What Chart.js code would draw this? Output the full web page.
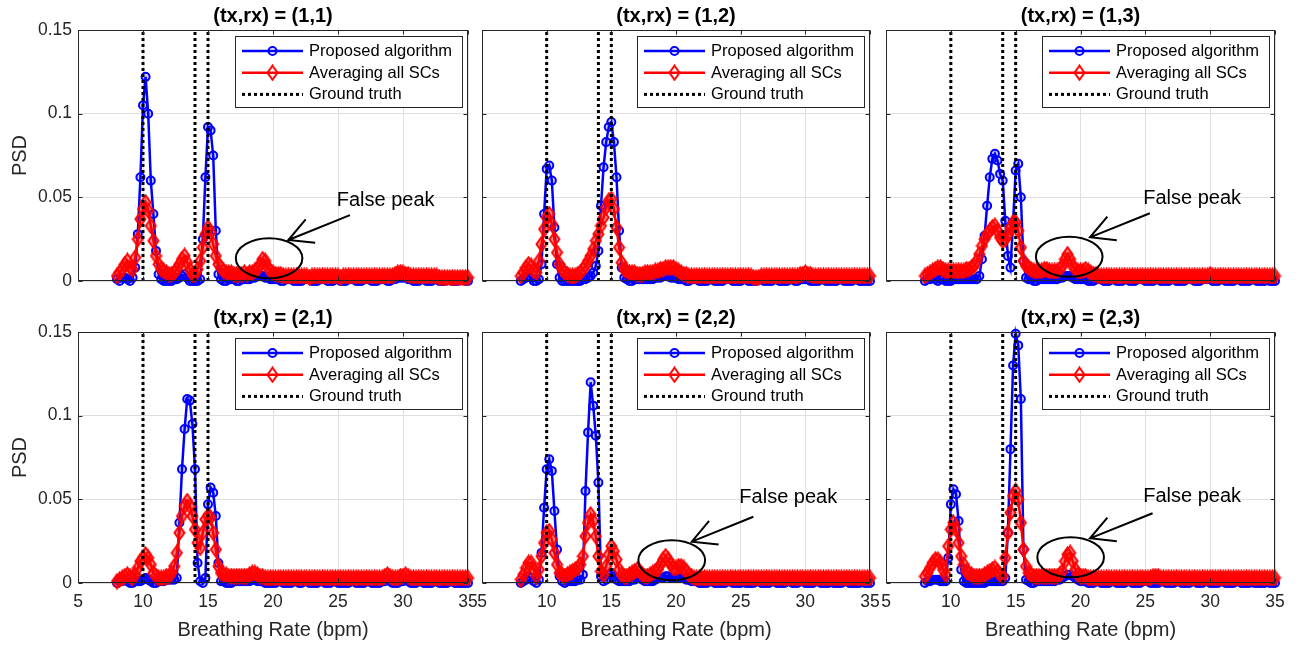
<!DOCTYPE html>
<html><head><meta charset="utf-8">
<script src="https://cdn.jsdelivr.net/npm/chart.js@4.4.1/dist/chart.umd.min.js"></script>
<style>
html,body{margin:0;padding:0;background:#fff;}
#wrap{position:relative;width:1302px;height:648px;overflow:hidden;background:#fff;}
#wrap canvas{position:absolute;}
</style></head><body><div id="wrap"></div>
<script>
// ---------------- DATA ----------------
const breathingRate = [
 8.0,8.2,8.4,8.6,8.8,9.0,9.2,9.4,9.6,9.8,
 10.0,10.2,10.4,10.6,10.8,11.0,11.2,11.4,11.6,11.8,
 12.0,12.2,12.4,12.6,12.8,13.0,13.2,13.4,13.6,13.8,
 14.0,14.2,14.4,14.6,14.8,15.0,15.2,15.4,15.6,15.8,
 16.0,16.2,16.4,16.6,16.8,17.0,17.2,17.4,17.6,17.8,
 18.0,18.2,18.4,18.6,18.8,19.0,19.2,19.4,19.6,19.8,
 20.0,20.2,20.4,20.6,20.8,21.0,21.2,21.4,21.6,21.8,
 22.0,22.2,22.4,22.6,22.8,23.0,23.2,23.4,23.6,23.8,
 24.0,24.2,24.4,24.6,24.8,25.0,25.2,25.4,25.6,25.8,
 26.0,26.2,26.4,26.6,26.8,27.0,27.2,27.4,27.6,27.8,
 28.0,28.2,28.4,28.6,28.8,29.0,29.2,29.4,29.6,29.8,
 30.0,30.2,30.4,30.6,30.8,31.0,31.2,31.4,31.6,31.8,
 32.0,32.2,32.4,32.6,32.8,33.0,33.2,33.4,33.6,33.8,
 34.0,34.2,34.4,34.6,34.8,35.0];

const groundTruth = [10, 14, 15];
const xTickValues = [5, 10, 15, 20, 25, 30, 35];
const xTickLabels = ['5', '10', '15', '20', '25', '30', '35'];
const yTickValues = [0, 0.05, 0.1, 0.15];
const yTickLabels = ['0', '0.05', '0.1', '0.15'];
const panelTitles = ['(tx,rx) = (1,1)', '(tx,rx) = (1,2)', '(tx,rx) = (1,3)',
                     '(tx,rx) = (2,1)', '(tx,rx) = (2,2)', '(tx,rx) = (2,3)'];
const legendLabels = ['Proposed algorithm', 'Averaging all SCs', 'Ground truth'];
const xAxisTitle = 'Breathing Rate (bpm)';
const yAxisTitle = 'PSD';
const noteText = 'False peak';

// (tx,rx) = (1,1)
const proposed11 = [
 0.001,0.000,0.002,0.002,0.001,0.000,0.002,0.008,0.028,0.062,
 0.105,0.122,0.100,0.060,0.040,0.018,0.004,0.001,0.000,0.000,
 0.000,0.000,0.001,0.001,0.002,0.003,0.004,0.002,0.000,0.000,
 0.000,0.000,0.001,0.025,0.062,0.092,0.090,0.075,0.030,0.004,
 0.001,0.000,0.000,0.001,0.001,0.001,0.000,0.000,0.001,0.001,
 0.001,0.001,0.002,0.002,0.003,0.003,0.003,0.002,0.002,0.001,
 0.001,0.001,0.001,0.000,0.000,0.001,0.001,0.001,0.000,0.000,
 0.000,0.000,0.001,0.001,0.001,0.000,0.000,0.000,0.001,0.001,
 0.001,0.000,0.000,0.000,0.001,0.001,0.000,0.000,0.000,0.001,
 0.001,0.001,0.000,0.000,0.000,0.001,0.001,0.001,0.000,0.000,
 0.000,0.001,0.001,0.001,0.000,0.000,0.001,0.001,0.002,0.002,
 0.002,0.002,0.001,0.001,0.000,0.000,0.000,0.001,0.001,0.000,
 0.000,0.000,0.001,0.001,0.000,0.000,0.000,0.001,0.001,0.000,
 0.000,0.000,0.001,0.001,0.000,0.000];
const averaging11 = [
 0.003,0.005,0.007,0.010,0.012,0.008,0.007,0.014,0.025,0.037,
 0.043,0.047,0.042,0.033,0.024,0.015,0.010,0.007,0.006,0.005,
 0.004,0.004,0.005,0.007,0.010,0.013,0.015,0.011,0.007,0.004,
 0.004,0.007,0.012,0.020,0.028,0.032,0.029,0.022,0.015,0.010,
 0.008,0.006,0.005,0.005,0.005,0.004,0.004,0.004,0.004,0.005,
 0.004,0.005,0.005,0.006,0.007,0.010,0.013,0.012,0.008,0.006,
 0.005,0.004,0.004,0.004,0.003,0.003,0.003,0.003,0.003,0.003,
 0.003,0.003,0.003,0.003,0.002,0.003,0.003,0.003,0.003,0.003,
 0.003,0.003,0.003,0.003,0.003,0.003,0.002,0.003,0.003,0.003,
 0.003,0.003,0.003,0.003,0.003,0.003,0.003,0.003,0.003,0.003,
 0.003,0.003,0.003,0.003,0.003,0.003,0.003,0.004,0.005,0.005,
 0.005,0.004,0.004,0.003,0.003,0.003,0.003,0.003,0.003,0.003,
 0.003,0.003,0.003,0.003,0.002,0.002,0.002,0.002,0.002,0.002,
 0.002,0.002,0.002,0.002,0.002,0.002];

// (tx,rx) = (1,2)
const proposed12 = [
 0.000,0.001,0.002,0.003,0.002,0.000,0.000,0.001,0.010,0.040,
 0.067,0.069,0.060,0.032,0.010,0.002,0.000,0.000,0.000,0.000,
 0.000,0.000,0.000,0.000,0.001,0.001,0.002,0.003,0.005,0.009,
 0.018,0.045,0.068,0.083,0.092,0.095,0.083,0.062,0.030,0.008,
 0.002,0.001,0.000,0.000,0.001,0.001,0.001,0.001,0.001,0.001,
 0.001,0.001,0.002,0.002,0.002,0.003,0.003,0.003,0.002,0.002,
 0.002,0.001,0.001,0.001,0.000,0.000,0.001,0.001,0.001,0.000,
 0.000,0.000,0.000,0.001,0.001,0.000,0.000,0.000,0.000,0.001,
 0.001,0.001,0.000,0.000,0.000,0.000,0.001,0.001,0.000,0.000,
 0.000,0.000,0.001,0.001,0.000,0.000,0.000,0.000,0.001,0.001,
 0.000,0.000,0.000,0.000,0.001,0.001,0.000,0.000,0.001,0.001,
 0.001,0.001,0.000,0.000,0.000,0.000,0.001,0.001,0.000,0.000,
 0.000,0.000,0.000,0.001,0.001,0.000,0.000,0.000,0.000,0.001,
 0.001,0.000,0.000,0.000,0.000,0.000];
const averaging12 = [
 0.003,0.005,0.008,0.010,0.009,0.006,0.005,0.012,0.022,0.031,
 0.038,0.040,0.034,0.025,0.017,0.010,0.007,0.005,0.004,0.003,
 0.003,0.003,0.004,0.005,0.007,0.009,0.012,0.015,0.019,0.024,
 0.028,0.033,0.038,0.044,0.048,0.049,0.043,0.032,0.020,0.011,
 0.007,0.006,0.005,0.005,0.005,0.004,0.004,0.004,0.005,0.005,
 0.005,0.005,0.006,0.006,0.007,0.007,0.008,0.008,0.008,0.008,
 0.007,0.006,0.005,0.004,0.004,0.003,0.003,0.003,0.003,0.003,
 0.003,0.003,0.003,0.003,0.003,0.003,0.003,0.003,0.003,0.003,
 0.003,0.003,0.003,0.003,0.003,0.003,0.003,0.003,0.003,0.003,
 0.002,0.002,0.002,0.003,0.003,0.003,0.003,0.003,0.003,0.003,
 0.003,0.003,0.003,0.003,0.003,0.003,0.003,0.003,0.004,0.004,
 0.005,0.004,0.004,0.003,0.003,0.003,0.003,0.003,0.003,0.003,
 0.003,0.003,0.003,0.003,0.003,0.003,0.003,0.003,0.003,0.003,
 0.003,0.003,0.003,0.003,0.003,0.003];

// (tx,rx) = (1,3)
const proposed13 = [
 0.000,0.001,0.001,0.002,0.001,0.000,0.001,0.001,0.000,0.000,
 0.000,0.001,0.001,0.001,0.001,0.001,0.001,0.001,0.001,0.001,
 0.001,0.003,0.013,0.027,0.045,0.062,0.073,0.076,0.072,0.064,
 0.060,0.036,0.015,0.008,0.035,0.066,0.070,0.050,0.012,0.002,
 0.001,0.001,0.000,0.000,0.001,0.001,0.001,0.001,0.001,0.001,
 0.001,0.001,0.002,0.002,0.003,0.003,0.003,0.002,0.001,0.001,
 0.001,0.001,0.001,0.000,0.000,0.000,0.001,0.001,0.001,0.000,
 0.000,0.000,0.001,0.001,0.000,0.000,0.000,0.001,0.001,0.000,
 0.000,0.000,0.001,0.001,0.001,0.000,0.000,0.000,0.000,0.001,
 0.001,0.000,0.000,0.000,0.000,0.001,0.001,0.000,0.000,0.000,
 0.000,0.001,0.001,0.001,0.000,0.000,0.000,0.001,0.001,0.001,
 0.001,0.000,0.000,0.000,0.001,0.001,0.000,0.000,0.000,0.000,
 0.001,0.001,0.000,0.000,0.000,0.000,0.001,0.001,0.000,0.000,
 0.000,0.000,0.001,0.000,0.000,0.000];
const averaging13 = [
 0.003,0.004,0.005,0.006,0.007,0.008,0.008,0.007,0.006,0.006,
 0.006,0.006,0.006,0.006,0.006,0.006,0.007,0.007,0.008,0.009,
 0.012,0.016,0.021,0.025,0.028,0.030,0.032,0.033,0.030,0.026,
 0.024,0.025,0.028,0.032,0.035,0.035,0.030,0.020,0.012,0.009,
 0.008,0.007,0.006,0.006,0.006,0.006,0.007,0.007,0.006,0.006,
 0.006,0.006,0.007,0.009,0.013,0.016,0.013,0.009,0.007,0.006,
 0.006,0.006,0.007,0.006,0.005,0.004,0.004,0.003,0.003,0.003,
 0.003,0.003,0.003,0.003,0.003,0.003,0.003,0.003,0.003,0.003,
 0.003,0.003,0.003,0.003,0.003,0.003,0.003,0.003,0.003,0.003,
 0.003,0.003,0.003,0.003,0.003,0.003,0.003,0.003,0.003,0.003,
 0.003,0.003,0.003,0.003,0.003,0.003,0.003,0.003,0.003,0.003,
 0.004,0.003,0.003,0.003,0.003,0.003,0.003,0.003,0.003,0.003,
 0.003,0.003,0.003,0.003,0.003,0.003,0.003,0.003,0.003,0.003,
 0.003,0.003,0.003,0.003,0.003,0.003];

// (tx,rx) = (2,1)
const proposed21 = [
 0.000,0.001,0.001,0.002,0.001,0.000,0.000,0.001,0.001,0.001,
 0.002,0.003,0.002,0.001,0.000,0.000,0.001,0.001,0.001,0.002,
 0.002,0.002,0.002,0.003,0.036,0.068,0.092,0.110,0.109,0.095,
 0.068,0.012,0.001,0.000,0.003,0.047,0.057,0.054,0.040,0.012,
 0.001,0.001,0.000,0.000,0.000,0.001,0.001,0.001,0.001,0.001,
 0.001,0.001,0.002,0.002,0.001,0.001,0.001,0.000,0.000,0.000,
 0.000,0.000,0.001,0.001,0.000,0.000,0.000,0.000,0.001,0.001,
 0.000,0.000,0.001,0.001,0.000,0.000,0.000,0.000,0.001,0.001,
 0.000,0.000,0.000,0.001,0.001,0.000,0.000,0.000,0.000,0.000,
 0.001,0.001,0.000,0.000,0.000,0.000,0.001,0.001,0.000,0.000,
 0.000,0.000,0.001,0.001,0.002,0.001,0.000,0.000,0.000,0.001,
 0.001,0.002,0.001,0.000,0.000,0.000,0.001,0.001,0.000,0.000,
 0.000,0.000,0.001,0.001,0.000,0.000,0.000,0.000,0.001,0.001,
 0.000,0.000,0.000,0.000,0.000,0.000];
const averaging21 = [
 0.001,0.002,0.003,0.004,0.005,0.004,0.003,0.005,0.009,0.013,
 0.015,0.017,0.015,0.011,0.006,0.004,0.003,0.003,0.003,0.004,
 0.004,0.006,0.010,0.018,0.030,0.040,0.046,0.049,0.046,0.040,
 0.032,0.024,0.021,0.030,0.038,0.040,0.039,0.030,0.020,0.010,
 0.006,0.005,0.005,0.004,0.004,0.004,0.004,0.004,0.004,0.004,
 0.004,0.005,0.006,0.006,0.005,0.004,0.004,0.003,0.003,0.003,
 0.003,0.003,0.003,0.003,0.003,0.003,0.003,0.003,0.003,0.003,
 0.003,0.003,0.003,0.003,0.003,0.003,0.003,0.003,0.003,0.003,
 0.003,0.003,0.003,0.003,0.003,0.003,0.003,0.003,0.003,0.003,
 0.003,0.003,0.003,0.003,0.003,0.003,0.003,0.003,0.003,0.003,
 0.003,0.003,0.003,0.004,0.005,0.004,0.003,0.003,0.003,0.004,
 0.004,0.005,0.004,0.003,0.003,0.003,0.003,0.003,0.003,0.003,
 0.003,0.003,0.003,0.003,0.003,0.003,0.003,0.003,0.003,0.003,
 0.003,0.003,0.003,0.003,0.003,0.003];

// (tx,rx) = (2,2)
const proposed22 = [
 0.000,0.001,0.002,0.004,0.003,0.001,0.000,0.002,0.018,0.045,
 0.068,0.074,0.067,0.043,0.020,0.004,0.001,0.000,0.001,0.001,
 0.001,0.001,0.002,0.002,0.005,0.055,0.090,0.120,0.106,0.088,
 0.060,0.004,0.001,0.002,0.005,0.006,0.004,0.002,0.001,0.001,
 0.001,0.001,0.001,0.002,0.002,0.003,0.003,0.002,0.001,0.001,
 0.001,0.001,0.002,0.003,0.003,0.003,0.004,0.004,0.003,0.003,
 0.003,0.003,0.003,0.003,0.002,0.002,0.001,0.001,0.001,0.000,
 0.000,0.000,0.000,0.001,0.001,0.000,0.000,0.000,0.000,0.000,
 0.001,0.001,0.000,0.000,0.000,0.000,0.001,0.000,0.000,0.000,
 0.000,0.001,0.001,0.000,0.000,0.000,0.000,0.001,0.001,0.000,
 0.000,0.000,0.000,0.001,0.001,0.000,0.000,0.000,0.001,0.001,
 0.000,0.000,0.000,0.000,0.001,0.001,0.000,0.000,0.000,0.000,
 0.001,0.000,0.000,0.000,0.000,0.001,0.001,0.000,0.000,0.000,
 0.000,0.000,0.001,0.000,0.000,0.000];
const averaging22 = [
 0.002,0.005,0.009,0.012,0.012,0.008,0.004,0.008,0.016,0.024,
 0.030,0.031,0.026,0.018,0.011,0.006,0.005,0.004,0.005,0.006,
 0.007,0.008,0.009,0.011,0.016,0.028,0.036,0.041,0.037,0.028,
 0.016,0.007,0.005,0.010,0.017,0.022,0.019,0.014,0.008,0.005,
 0.004,0.004,0.005,0.006,0.007,0.008,0.007,0.005,0.004,0.004,
 0.005,0.006,0.007,0.008,0.011,0.014,0.016,0.014,0.011,0.009,
 0.009,0.010,0.010,0.009,0.007,0.005,0.004,0.003,0.003,0.003,
 0.003,0.003,0.003,0.003,0.003,0.003,0.003,0.003,0.003,0.003,
 0.003,0.003,0.003,0.003,0.003,0.003,0.003,0.003,0.003,0.003,
 0.003,0.003,0.003,0.003,0.003,0.003,0.003,0.003,0.003,0.003,
 0.003,0.003,0.003,0.003,0.003,0.003,0.003,0.003,0.003,0.003,
 0.003,0.003,0.003,0.003,0.003,0.003,0.003,0.003,0.003,0.003,
 0.003,0.003,0.003,0.003,0.003,0.003,0.003,0.003,0.003,0.003,
 0.003,0.003,0.003,0.003,0.003,0.003];

// (tx,rx) = (2,3)
const proposed23 = [
 0.000,0.001,0.001,0.002,0.002,0.002,0.001,0.001,0.001,0.015,
 0.047,0.056,0.053,0.037,0.008,0.001,0.000,0.000,0.000,0.000,
 0.000,0.000,0.000,0.000,0.001,0.001,0.001,0.001,0.001,0.001,
 0.001,0.003,0.030,0.080,0.130,0.149,0.142,0.110,0.020,0.002,
 0.001,0.000,0.000,0.001,0.001,0.001,0.001,0.001,0.001,0.001,
 0.001,0.002,0.002,0.003,0.004,0.005,0.005,0.004,0.003,0.002,
 0.001,0.001,0.001,0.000,0.000,0.000,0.001,0.001,0.000,0.000,
 0.000,0.000,0.001,0.001,0.000,0.000,0.000,0.000,0.001,0.001,
 0.000,0.000,0.000,0.000,0.001,0.001,0.001,0.000,0.000,0.000,
 0.000,0.001,0.001,0.000,0.000,0.000,0.000,0.001,0.001,0.000,
 0.000,0.000,0.000,0.001,0.001,0.000,0.000,0.000,0.001,0.001,
 0.000,0.000,0.000,0.000,0.001,0.001,0.000,0.000,0.000,0.000,
 0.001,0.001,0.000,0.000,0.000,0.000,0.001,0.000,0.000,0.000,
 0.000,0.000,0.001,0.000,0.000,0.000];
const averaging23 = [
 0.004,0.006,0.009,0.012,0.014,0.014,0.012,0.008,0.005,0.022,
 0.032,0.036,0.032,0.024,0.016,0.011,0.007,0.006,0.005,0.004,
 0.004,0.004,0.004,0.005,0.006,0.007,0.008,0.009,0.007,0.005,
 0.004,0.015,0.030,0.042,0.052,0.055,0.050,0.036,0.020,0.010,
 0.006,0.005,0.004,0.004,0.004,0.004,0.004,0.004,0.004,0.004,
 0.004,0.004,0.005,0.007,0.013,0.017,0.018,0.013,0.008,0.005,
 0.004,0.004,0.004,0.003,0.003,0.003,0.003,0.003,0.003,0.003,
 0.003,0.003,0.003,0.003,0.003,0.003,0.003,0.003,0.003,0.003,
 0.003,0.003,0.003,0.003,0.003,0.003,0.003,0.003,0.004,0.004,
 0.004,0.003,0.003,0.003,0.003,0.003,0.003,0.003,0.003,0.003,
 0.003,0.003,0.003,0.003,0.003,0.003,0.003,0.003,0.003,0.003,
 0.003,0.003,0.003,0.003,0.003,0.003,0.003,0.003,0.003,0.003,
 0.003,0.003,0.003,0.003,0.003,0.003,0.003,0.003,0.003,0.003,
 0.003,0.003,0.003,0.003,0.003,0.003];

const proposedSeries = [proposed11, proposed12, proposed13, proposed21, proposed22, proposed23];
const averagingSeries = [averaging11, averaging12, averaging13, averaging21, averaging22, averaging23];

// "False peak" annotations (data coordinates), null = none
const falsePeakNotes = [
  {cx: 19.7, cy: 0.0136, rx: 2.56, ry: 0.012, from: [25.92, 0.0394], to: [21.18, 0.0245], textAt: [24.9, 0.0484]},
  null,
  {cx: 19.13, cy: 0.0145, rx: 2.57, ry: 0.012, from: [25.35, 0.0405], to: [20.73, 0.0261], textAt: [24.84, 0.0494]},
  null,
  {cx: 19.67, cy: 0.0136, rx: 2.58, ry: 0.012, from: [25.98, 0.0396], to: [21.22, 0.0247], textAt: [24.9, 0.0512]},
  {cx: 19.24, cy: 0.0154, rx: 2.57, ry: 0.012, from: [25.56, 0.0417], to: [20.73, 0.0267], textAt: [24.84, 0.0516]}
];

// ---------------- LAYOUT / STYLE ----------------
const FONT = '"Liberation Sans", Arial, Helvetica, sans-serif';
Chart.defaults.font.family = FONT;
const AX = '#262626';
const BLUE = '#0000ff', RED = '#ff0000';

const cols = [
  {left: 0,   w: 490, yw: 78, padR: 22},
  {left: 460, w: 430, yw: 22, padR: 20},
  {left: 866, w: 436, yw: 20, padR: 27}
];
const rows = [
  {top: 0,   h: 300, tpTop: 4, tpBot: 2, xh: 19},
  {top: 300, h: 348, tpTop: 6, tpBot: 2, xh: 65}
];

function makeDiamond(fill) {
  const c = document.createElement('canvas');
  c.width = 13; c.height = 17;
  const g = c.getContext('2d');
  g.strokeStyle = RED; g.lineWidth = 2; g.lineJoin = 'miter';
  g.beginPath(); g.moveTo(6.5, 1.5); g.lineTo(11.5, 8.5); g.lineTo(6.5, 15.5); g.lineTo(1.5, 8.5); g.closePath();
  if (fill) { g.fillStyle = fill; g.fill(); }
  g.stroke();
  return c;
}
const diamond = makeDiamond('rgba(255,0,0,0.45)');
const diamondLegend = makeDiamond(null);

const framePlugin = {
  id: 'frame',
  afterDatasetsDraw(chart) {
    const o = chart.options.plugins.frame;
    const {ctx, chartArea: a} = chart;
    const xs = chart.scales.x, ys = chart.scales.y;
    ctx.save();
    // annotation
    const n = o.note;
    if (n) {
      ctx.strokeStyle = '#000'; ctx.lineWidth = 2; ctx.setLineDash([]);
      const cx = xs.getPixelForValue(n.cx), cy = ys.getPixelForValue(n.cy);
      const rx = Math.abs(xs.getPixelForValue(n.cx + n.rx) - cx);
      const ry = Math.abs(ys.getPixelForValue(n.cy + n.ry) - cy);
      ctx.beginPath(); ctx.ellipse(cx, cy, rx, ry, 0, 0, Math.PI * 2); ctx.stroke();
      const x0 = xs.getPixelForValue(n.from[0]), y0 = ys.getPixelForValue(n.from[1]);
      const x1 = xs.getPixelForValue(n.to[0]), y1 = ys.getPixelForValue(n.to[1]);
      const ang = Math.atan2(y0 - y1, x0 - x1), L = 27, h = 28 * Math.PI / 180;
      ctx.beginPath(); ctx.moveTo(x0, y0); ctx.lineTo(x1, y1);
      ctx.moveTo(x1 + L * Math.cos(ang - h), y1 + L * Math.sin(ang - h));
      ctx.lineTo(x1, y1);
      ctx.lineTo(x1 + L * Math.cos(ang + h), y1 + L * Math.sin(ang + h));
      ctx.stroke();
      ctx.fillStyle = '#000'; ctx.font = '20px ' + FONT;
      ctx.textAlign = 'left'; ctx.textBaseline = 'middle';
      ctx.fillText(noteText, xs.getPixelForValue(n.textAt[0]), ys.getPixelForValue(n.textAt[1]));
    }
    // axes box
    ctx.strokeStyle = AX; ctx.lineWidth = 1; ctx.setLineDash([]);
    const L0 = Math.round(a.left) + 0.5, T0 = Math.round(a.top) + 0.5;
    const R0 = Math.round(a.right) - 0.5, B0 = Math.round(a.bottom) - 0.5;
    ctx.strokeRect(L0, T0, R0 - L0, B0 - T0);
    // inside tick marks
    ctx.beginPath();
    xTickValues.forEach(v => {
      const p = Math.round(xs.getPixelForValue(v)) + 0.5;
      ctx.moveTo(p, B0); ctx.lineTo(p, B0 - 4);
      ctx.moveTo(p, T0); ctx.lineTo(p, T0 + 4);
    });
    yTickValues.forEach(v => {
      const p = Math.round(ys.getPixelForValue(v)) + 0.5;
      ctx.moveTo(L0, p); ctx.lineTo(L0 + 4, p);
      ctx.moveTo(R0, p); ctx.lineTo(R0 - 4, p);
    });
    ctx.stroke();
    // legend
    const lw = 227, lh = 71;
    const lx = Math.round(a.right - 6 - lw), ly = Math.round(a.top + 6);
    ctx.fillStyle = '#fff'; ctx.fillRect(lx, ly, lw, lh);
    ctx.strokeStyle = AX; ctx.lineWidth = 1;
    ctx.strokeRect(lx + 0.5, ly + 0.5, lw, lh);
    ctx.font = '16.5px ' + FONT; ctx.textAlign = 'left'; ctx.textBaseline = 'middle';
    for (let i = 0; i < 3; i++) {
      const yy = ly + 15 + i * 21.7;
      ctx.beginPath();
      if (i === 0) { ctx.strokeStyle = BLUE; ctx.lineWidth = 2.5; ctx.setLineDash([]); }
      else if (i === 1) { ctx.strokeStyle = RED; ctx.lineWidth = 2.5; ctx.setLineDash([]); }
      else { ctx.strokeStyle = '#000'; ctx.lineWidth = 3; ctx.setLineDash([3, 3]); }
      ctx.moveTo(lx + 7, yy); ctx.lineTo(lx + 68, yy); ctx.stroke();
      ctx.setLineDash([]);
      if (i === 0) {
        ctx.beginPath(); ctx.lineWidth = 2; ctx.strokeStyle = BLUE;
        ctx.arc(lx + 37.5, yy, 4, 0, Math.PI * 2); ctx.stroke();
      } else if (i === 1) {
        ctx.drawImage(diamondLegend, lx + 37.5 - diamondLegend.width / 2, yy - diamondLegend.height / 2);
      }
      ctx.fillStyle = '#000';
      ctx.fillText(legendLabels[i], lx + 74, yy + 0.5);
    }
    ctx.restore();
  }
};

const wrap = document.getElementById('wrap');
for (let p = 0; p < 6; p++) {
  const r = Math.floor(p / 3), c = p % 3;
  const row = rows[r], col = cols[c];
  const cv = document.createElement('canvas');
  cv.width = col.w; cv.height = row.h;
  cv.style.left = col.left + 'px'; cv.style.top = row.top + 'px';
  cv.style.width = col.w + 'px'; cv.style.height = row.h + 'px';
  wrap.appendChild(cv);

  const gtSets = groundTruth.map(g => ({
    label: legendLabels[2],
    data: [{x: g, y: yTickValues[0]}, {x: g, y: yTickValues[yTickValues.length - 1]}],
    borderColor: '#000', borderWidth: 3, borderDash: [3, 3], borderCapStyle: 'butt',
    pointRadius: 0, fill: false, order: 0, clip: false
  }));
  const avg = averagingSeries[p], prop = proposedSeries[p];
  const datasets = [
    ...gtSets,
    {
      label: legendLabels[1],
      data: breathingRate.map((x, i) => ({x, y: avg[i]})),
      borderColor: RED, borderWidth: 2.5, pointStyle: diamond, pointRadius: 6,
      pointBorderColor: RED, pointBackgroundColor: 'rgba(0,0,0,0)',
      tension: 0, fill: false, order: 1, clip: false
    },
    {
      label: legendLabels[0],
      data: breathingRate.map((x, i) => ({x, y: prop[i]})),
      borderColor: BLUE, borderWidth: 2.5, pointStyle: 'circle', pointRadius: 4,
      pointBorderWidth: 2, pointBorderColor: BLUE, pointBackgroundColor: 'rgba(0,0,255,0.2)',
      tension: 0, fill: false, order: 2, clip: false
    }
  ];

  new Chart(cv, {
    type: 'line',
    data: {datasets},
    options: {
      responsive: false, animation: false, devicePixelRatio: 1, events: [],
      layout: {padding: {left: 0, right: col.padR, top: 0, bottom: 0}},
      plugins: {
        legend: {display: false},
        tooltip: {enabled: false},
        title: {
          display: true, text: panelTitles[p], color: '#000', fullSize: false,
          font: {size: 20, weight: 'bold'},
          padding: {top: row.tpTop, bottom: row.tpBot}
        },
        frame: {note: falsePeakNotes[p]}
      },
      scales: {
        x: {
          type: 'linear', min: xTickValues[0], max: xTickValues[xTickValues.length - 1],
          ticks: {
            display: r === 1, stepSize: 5, autoSkip: false, maxRotation: 0,
            font: {size: 17.5}, color: AX, padding: 9,
            callback: v => xTickLabels[xTickValues.indexOf(v)]
          },
          grid: {color: '#dfdfdf', drawTicks: false, lineWidth: 1},
          border: {display: false},
          title: {display: r === 1, text: xAxisTitle, color: AX, font: {size: 20}, padding: {top: 0, bottom: 6}},
          afterFit: s => { s.height = row.xh; }
        },
        y: {
          type: 'linear', min: yTickValues[0], max: yTickValues[yTickValues.length - 1],
          ticks: {
            display: c === 0, stepSize: 0.05,
            font: {size: 17.5}, color: AX, padding: 6,
            callback: v => yTickLabels[Math.round(v / 0.05)]
          },
          grid: {color: '#dfdfdf', drawTicks: false, lineWidth: 1},
          border: {display: false},
          title: {display: c === 0, text: yAxisTitle, color: AX, font: {size: 20}, padding: {top: 8, bottom: 0}},
          afterFit: s => { s.width = col.yw; }
        }
      }
    },
    plugins: [framePlugin]
  });
}
</script></body></html>
